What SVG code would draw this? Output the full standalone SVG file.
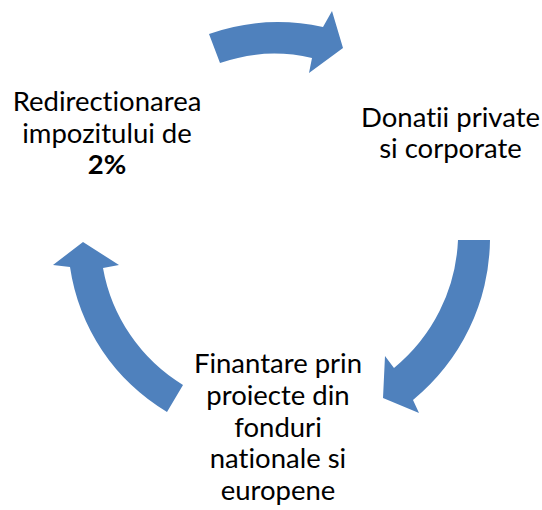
<svg xmlns="http://www.w3.org/2000/svg" width="542" height="510" viewBox="0 0 542 510">
<style>
.arrow{fill:#4F81BD;stroke:none}
.t{font-family:Lato,"Open Sans","Liberation Sans",sans-serif;font-size:27.5px;fill:#000;text-anchor:middle;font-variant-ligatures:none;font-feature-settings:"liga" 0,"clig" 0}
.b{font-weight:bold}
</style>
<rect width="542" height="510" fill="#fff"/>
<g id="connectors">
<path id="arrow-top" class="arrow" d="M209,34 A210,210 0 0 1 323,27 L332,11 L343,48 L309,73 L312,58 A165,165 0 0 0 220,63 Z"/>
<path id="arrow-right" class="arrow" d="M458,240 L490,240 A210,210 0 0 1 413,400 L419,413 L383,398 L385,356 L394,368 A175,175 0 0 0 458,240 Z"/>
<path id="arrow-left" class="arrow" d="M167,412 A203,203 0 0 1 70,267 L53,265 L83,242 L119,265 L103,268 A172,172 0 0 0 183,385 Z"/>
</g>
<g id="node-redirectionarea">
<text class="t" x="107" y="111">Redirectionarea</text>
<text class="t" x="107" y="142.7">impozitului de</text>
<text class="t b" x="107" y="174.4">2%</text>
</g>
<g id="node-donatii">
<text class="t" x="450.5" y="126.7">Donatii private</text>
<text class="t" x="450.5" y="158.3">si corporate</text>
</g>
<g id="node-finantare">
<text class="t" x="278" y="373.3">Finantare prin</text>
<text class="t" x="278" y="405">proiecte din</text>
<text class="t" x="278" y="436.7">fonduri</text>
<text class="t" x="278" y="468.3">nationale si</text>
<text class="t" x="278" y="500">europene</text>
</g>
</svg>
